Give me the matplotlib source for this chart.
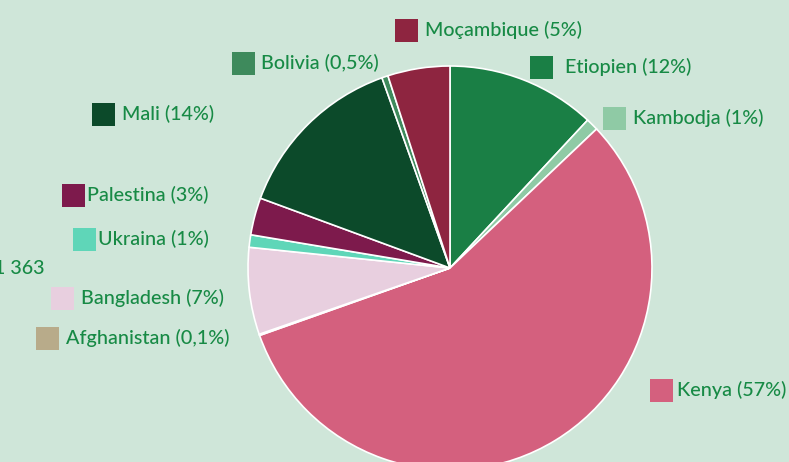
import matplotlib.pyplot as plt
from matplotlib.patches import Rectangle

# -------------------------------
# Data
# -------------------------------

countries = ["Etiopien", "Kambodja", "Kenya", "Afghanistan", "Bangladesh",
             "Ukraina", "Palestina", "Mali", "Bolivia", "Moçambique"]
shares = [12, 1, 57, 0.1, 7, 1, 3, 14, 0.5, 5]
share_labels = ["12%", "1%", "57%", "0,1%", "7%", "1%", "3%", "14%", "0,5%", "5%"]
colors = ["#1a7f45", "#8fcaa5", "#d4607e", "#b8ab8a", "#e8cfdf",
          "#5fd6b8", "#7d1a4c", "#0c4a2a", "#3e8a5c", "#8e2540"]

# legend square (left x, center y, text offset) in pixel coordinates, top-down
label_pos = {
    "Moçambique": (395, 30, 30),
    "Bolivia": (232, 63, 29),
    "Etiopien": (530, 67, 35),
    "Kambodja": (603, 118, 30),
    "Mali": (92, 114, 30),
    "Palestina": (62, 195, 25),
    "Ukraina": (73, 239, 25),
    "Bangladesh": (51, 298, 30),
    "Afghanistan": (36, 338, 30),
    "Kenya": (650, 390, 27),
}

W, H = 789, 462
bg = "#cfe6d9"
txt = "#178a45"
fs = 14.2

# -------------------------------
# Plot
# -------------------------------

fig = plt.figure(figsize=(W / 100, H / 100), dpi=100, facecolor=bg)
ax = fig.add_axes([0, 0, 1, 1])
ax.set_facecolor(bg)

ax.pie(shares, colors=colors, startangle=90, counterclock=False,
       center=(450, H - 268), radius=202,
       wedgeprops=dict(edgecolor="white", linewidth=1.2))

ax.set_xlim(0, W)
ax.set_ylim(0, H)
ax.set_aspect("auto")
ax.axis("off")

for name, col, lab in zip(countries, colors, share_labels):
    x, yc, gap = label_pos[name]
    y = H - yc
    ax.add_patch(Rectangle((x, y - 11.5), 23, 23, facecolor=col,
                           edgecolor="none", clip_on=False))
    ax.text(x + gap, y, f"{name} ({lab})", color=txt, fontsize=fs,
            family="Lato", fontweight="medium", va="center", ha="left")

# total, cut by the left edge as in the original
ax.text(-6, H - 268, "1 363", color=txt, fontsize=fs, family="Lato",
        fontweight="medium", va="center", ha="left")

fig.savefig("out.png", dpi=100, facecolor=bg)
